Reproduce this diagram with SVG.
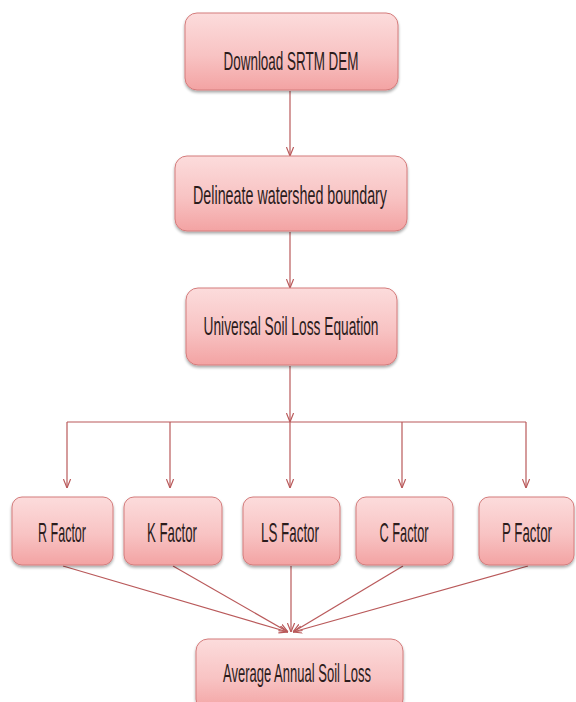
<svg xmlns="http://www.w3.org/2000/svg" width="576" height="702" viewBox="0 0 576 702">
  <defs>
    <linearGradient id="boxFill" x1="0" y1="0" x2="0" y2="1">
      <stop offset="0" stop-color="#fcdcdc"/>
      <stop offset="0.55" stop-color="#f8c3c3"/>
      <stop offset="1" stop-color="#f3a3a3"/>
    </linearGradient>
    <filter id="shadow" x="-10%" y="-10%" width="120%" height="130%">
      <feGaussianBlur in="SourceAlpha" stdDeviation="1.6"/>
      <feOffset dx="0" dy="2" result="b"/>
      <feComponentTransfer><feFuncA type="linear" slope="0.35"/></feComponentTransfer>
      <feMerge><feMergeNode/><feMergeNode in="SourceGraphic"/></feMerge>
    </filter>
    <marker id="arrow" viewBox="0 0 10 10" refX="10" refY="5" markerWidth="9" markerHeight="9" markerUnits="userSpaceOnUse" orient="auto">
      <path d="M0,1 L10,5 L0,9" fill="none" stroke="#b9595a" stroke-width="1.3"/>
    </marker>
  </defs>
  <style>
    .box { fill: url(#boxFill); stroke: #d47c7c; stroke-width: 1; filter: url(#shadow); }
    .label { font-family: "Liberation Sans Narrow", "Liberation Sans", sans-serif; font-size: 26px; fill: #2b1c1c; text-anchor: middle; }
    .big { font-size: 28px; }
    .conn { stroke: #b9595a; stroke-width: 1.2; fill: none; }
    .conn-a { stroke: #b9595a; stroke-width: 1.2; fill: none; marker-end: url(#arrow); }
  </style>

  <rect width="576" height="702" fill="#ffffff"/>

  <!-- connectors -->
  <g id="connectors">
    <line class="conn-a" x1="290" y1="91" x2="290" y2="156"/>
    <line class="conn-a" x1="290" y1="232" x2="290" y2="288"/>
    <line class="conn-a" x1="290" y1="366" x2="290" y2="422"/>
    <line class="conn" x1="67" y1="422" x2="526" y2="422"/>
    <line class="conn-a" x1="67" y1="422" x2="67" y2="488"/>
    <line class="conn-a" x1="170" y1="422" x2="170" y2="488"/>
    <line class="conn-a" x1="290" y1="422" x2="290" y2="488"/>
    <line class="conn-a" x1="402" y1="422" x2="402" y2="488"/>
    <line class="conn-a" x1="526" y1="422" x2="526" y2="488"/>
    <line class="conn-a" x1="63" y1="566" x2="288" y2="632"/>
    <line class="conn-a" x1="173" y1="566" x2="288" y2="632"/>
    <line class="conn-a" x1="291" y1="566" x2="291" y2="632"/>
    <line class="conn-a" x1="403" y1="566" x2="293" y2="632"/>
    <line class="conn-a" x1="528" y1="566" x2="293" y2="632"/>
  </g>

  <g id="download">
    <rect class="box" x="185" y="13" width="213" height="77" rx="12"/>
    <text class="label" x="291" y="70" textLength="135" lengthAdjust="spacingAndGlyphs">Download SRTM DEM</text>
  </g>

  <g id="delineate">
    <rect class="box" x="175" y="156" width="232" height="75" rx="12"/>
    <text class="label" x="290" y="204" textLength="194" lengthAdjust="spacingAndGlyphs">Delineate watershed boundary</text>
  </g>

  <g id="usle">
    <rect class="box" x="186" y="288" width="211" height="77" rx="12"/>
    <text class="label" x="291" y="335" textLength="175" lengthAdjust="spacingAndGlyphs">Universal Soil Loss Equation</text>
  </g>

  <g id="r-factor">
    <rect class="box" x="12" y="497" width="101" height="68" rx="10"/>
    <text class="label big" x="62" y="542" textLength="48" lengthAdjust="spacingAndGlyphs">R Factor</text>
  </g>

  <g id="k-factor">
    <rect class="box" x="124" y="497" width="98" height="68" rx="10"/>
    <text class="label big" x="172" y="542" textLength="50" lengthAdjust="spacingAndGlyphs">K Factor</text>
  </g>

  <g id="ls-factor">
    <rect class="box" x="243" y="497" width="97" height="68" rx="10"/>
    <text class="label big" x="290" y="542" textLength="58" lengthAdjust="spacingAndGlyphs">LS Factor</text>
  </g>

  <g id="c-factor">
    <rect class="box" x="356" y="497" width="97" height="68" rx="10"/>
    <text class="label big" x="404" y="542" textLength="49" lengthAdjust="spacingAndGlyphs">C Factor</text>
  </g>

  <g id="p-factor">
    <rect class="box" x="479" y="497" width="95" height="68" rx="10"/>
    <text class="label big" x="527" y="542" textLength="50" lengthAdjust="spacingAndGlyphs">P Factor</text>
  </g>

  <g id="soil-loss">
    <rect class="box" x="196" y="639" width="207" height="72" rx="12"/>
    <text class="label" x="297" y="682" textLength="148" lengthAdjust="spacingAndGlyphs">Average Annual Soil Loss</text>
  </g>
</svg>
